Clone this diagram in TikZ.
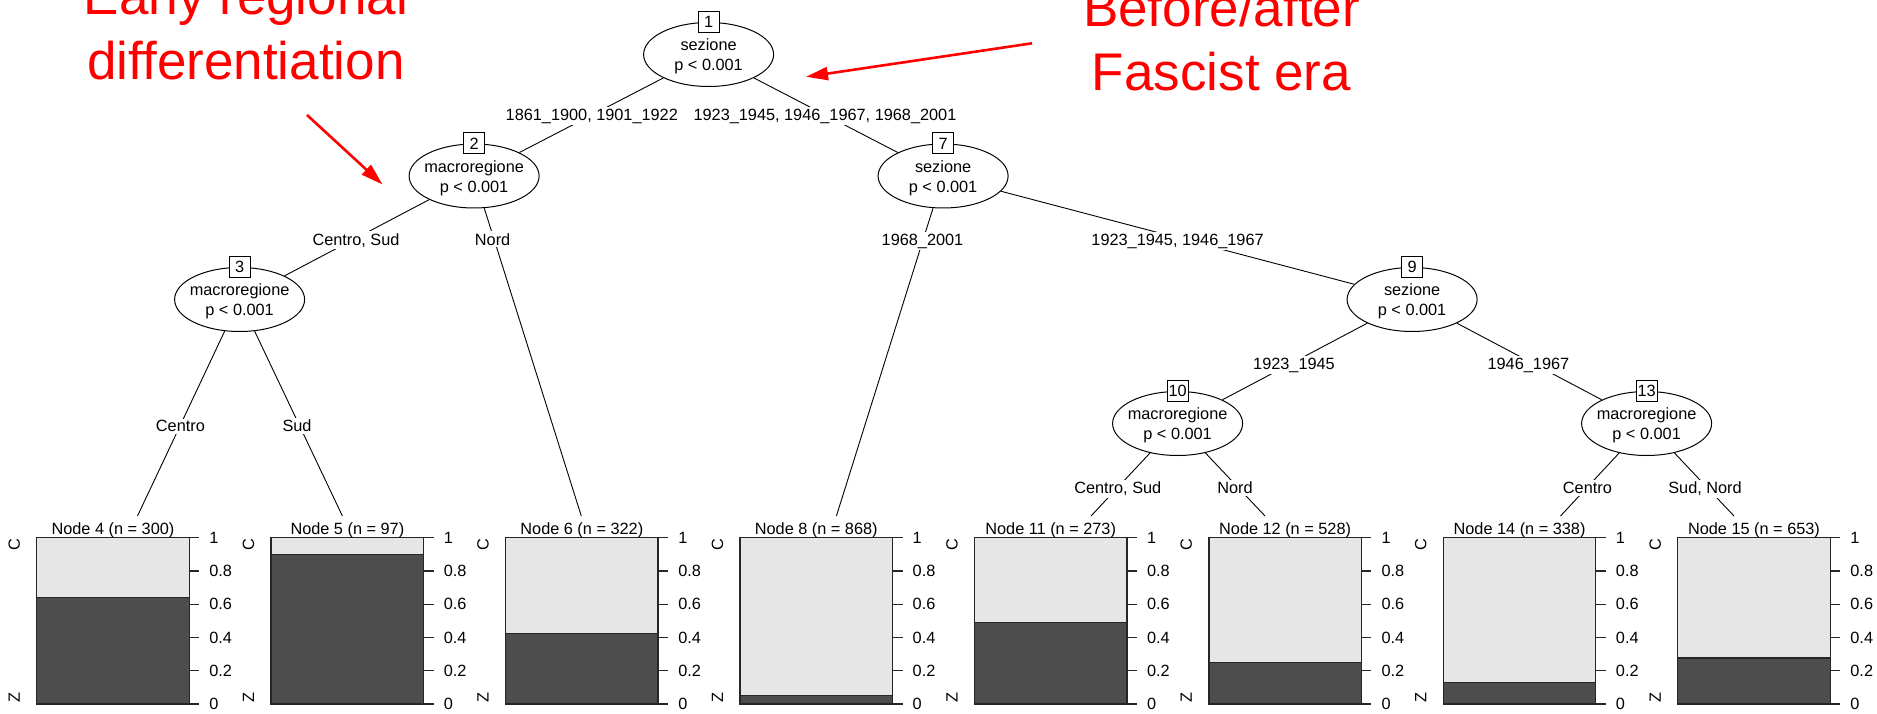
\documentclass[tikz,border=0pt]{standalone}
\usepackage{fontspec}
\setmainfont{Liberation Sans}
\usetikzlibrary{shapes.geometric,arrows.meta,backgrounds}
\definecolor{barlight}{HTML}{E6E6E6}
\definecolor{bardark}{HTML}{4D4D4D}
\definecolor{annotred}{HTML}{FF0000}
\newcommand\twolines[2]{\makebox[0pt]{\begin{tabular}{@{}c@{}}\rule{0pt}{18.8pt}#1\\#2\end{tabular}}}
\begin{document}
\begin{tikzpicture}[x=1pt,y=-1pt,
  every node/.style={font=\fontsize{16.3}{20}\selectfont, text=black},
  inner/.style={ellipse, draw=black, line width=1pt, fill=white, minimum width=130pt, minimum height=64pt, inner sep=0pt},
  idbox/.style={draw=black, line width=1pt, fill=white, minimum width=21pt, minimum height=21pt, inner sep=0pt},
  treeedge/.style={draw=black, line width=0.9pt},
  elab/.style={fill=white, inner xsep=1pt, inner ysep=2pt, anchor=base},
  barline/.style={draw=black!85, line width=1.3pt},
  tickline/.style={draw=black!85, line width=1.1pt},
  ticklab/.style={anchor=west, inner sep=0pt},
  axlab/.style={rotate=90, inner sep=0pt},
  ttl/.style={anchor=base, inner sep=0pt},
  annot/.style={text=annotred, font=\fontsize{53}{64.5}\selectfont, align=center, inner sep=0pt, anchor=south},
  annotarrow/.style={draw=annotred, line width=2.6pt, -{Triangle[length=22pt,width=13pt]}}
]
\useasboundingbox (0,0) rectangle (1877,714);

% inner nodes
\node[inner] (n1) at (708.6,54.5) {\twolines{sezione}{p < 0.001}};
\node[idbox] (b1) at (n1.north) {1};
\node[inner] (n2) at (474.1,176) {\twolines{macroregione}{p < 0.001}};
\node[idbox] (b2) at (n2.north) {2};
\node[inner] (n7) at (943.1,176) {\twolines{sezione}{p < 0.001}};
\node[idbox] (b7) at (n7.north) {7};
\node[inner] (n3) at (239.6,299.5) {\twolines{macroregione}{p < 0.001}};
\node[idbox] (b3) at (n3.north) {3};
\node[inner] (n9) at (1412.1,299.5) {\twolines{sezione}{p < 0.001}};
\node[idbox] (b9) at (n9.north) {9};
\node[inner] (n10) at (1177.6,423.5) {\twolines{macroregione}{p < 0.001}};
\node[idbox] (b10) at (n10.north) {10};
\node[inner] (n13) at (1646.6,423.5) {\twolines{macroregione}{p < 0.001}};
\node[idbox] (b13) at (n13.north) {13};

% terminal anchors
\coordinate (a4) at (137.5,516);
\coordinate (a5) at (342.4,516);
\coordinate (a6) at (581.3,516);
\coordinate (a8) at (836.4,516);
\coordinate (a11) at (1091,516);
\coordinate (a12) at (1265,516);
\coordinate (a14) at (1560.5,516);
\coordinate (a15) at (1734,516);

% edge labels
\node[elab] (e12) at (591.8,120.2) {1861\_1900, 1901\_1922};
\node[elab] (e17) at (825,120.2) {1923\_1945, 1946\_1967, 1968\_2001};
\node[elab] (e23) at (356,245.2) {Centro, Sud};
\node[elab] (e26) at (492.6,245.2) {Nord};
\node[elab] (e78) at (922.5,245.2) {1968\_2001};
\node[elab] (e79) at (1177.6,245.2) {1923\_1945, 1946\_1967};
\node[elab] (e34) at (180.4,431.9) {Centro};
\node[elab] (e35) at (297,431.9) {Sud};
\node[elab] (e910) at (1294,369.2) {1923\_1945};
\node[elab] (e913) at (1528.4,369.2) {1946\_1967};
\node[elab] (e1011) at (1117.8,493.6) {Centro, Sud};
\node[elab] (e1012) at (1235,493.6) {Nord};
\node[elab] (e1314) at (1587.4,493.6) {Centro};
\node[elab] (e1315) at (1705,493.6) {Sud, Nord};

% terminal panels
\foreach \i/\num/\cnt/\f in {0/4/300/0.639,1/5/97/0.90,2/6/322/0.423,3/8/868/0.05,4/11/273/0.491,5/12/528/0.25,6/14/338/0.130,7/15/653/0.277}{
  \pgfmathsetmacro\L{36.7+234.43*\i}
  \pgfmathsetmacro\R{\L+152.5}
  \pgfmathsetmacro\S{704-\f*166.3}
  \pgfmathsetmacro\M{\L+76.25}
  \fill[barlight] (\L,537.7) rectangle (\R,\S);
  \fill[bardark] (\L,\S) rectangle (\R,704);
  \draw[barline] (\L,537.7) rectangle (\R,\S);
  \draw[barline] (\L,\S) rectangle (\R,704);
  \node[ttl] (t\num) at (\M,534) {Node \num{} (n = \cnt)};
  \node[axlab] (c\num) at ({\L-22.5},545) {C};
  \node[axlab] (z\num) at ({\L-22.5},697.7) {Z};
  \foreach \t/\k in {0/0,0.2/1,0.4/2,0.6/3,0.8/4,1/5}{
    \pgfmathsetmacro\Y{704-\t*166.3}
    \draw[tickline] (\R,\Y) -- ({\R+10},\Y);
    \node[ticklab] (y\num-\k) at ({\R+20},\Y) {\t};
  }
}

% annotations
\node[annot] (ann1) at (246,80) {Early regional\\differentiation};
\node[annot] (ann2) at (1221.5,91.7) {Before/after\\Fascist era};
\coordinate (ra1s) at (307,115);
\coordinate (ra1e) at (382.5,184.5);
\coordinate (ra2s) at (1032,43.3);
\coordinate (ra2e) at (806,76.8);
\draw[annotarrow] (ra1s) -- (ra1e);
\draw[annotarrow] (ra2s) -- (ra2e);

% edges behind
\begin{scope}[on background layer]
\fill[white] (0,0) rectangle (1877,714);
\draw[treeedge] (n1) -- (n2);
\draw[treeedge] (n1) -- (n7);
\draw[treeedge] (n2) -- (n3);
\draw[treeedge] (n2) -- (a6);
\draw[treeedge] (n3) -- (a4);
\draw[treeedge] (n3) -- (a5);
\draw[treeedge] (n7) -- (a8);
\draw[treeedge] (n7) -- (n9);
\draw[treeedge] (n9) -- (n10);
\draw[treeedge] (n9) -- (n13);
\draw[treeedge] (n10) -- (a11);
\draw[treeedge] (n10) -- (a12);
\draw[treeedge] (n13) -- (a14);
\draw[treeedge] (n13) -- (a15);
\end{scope}
\end{tikzpicture}
\end{document}
